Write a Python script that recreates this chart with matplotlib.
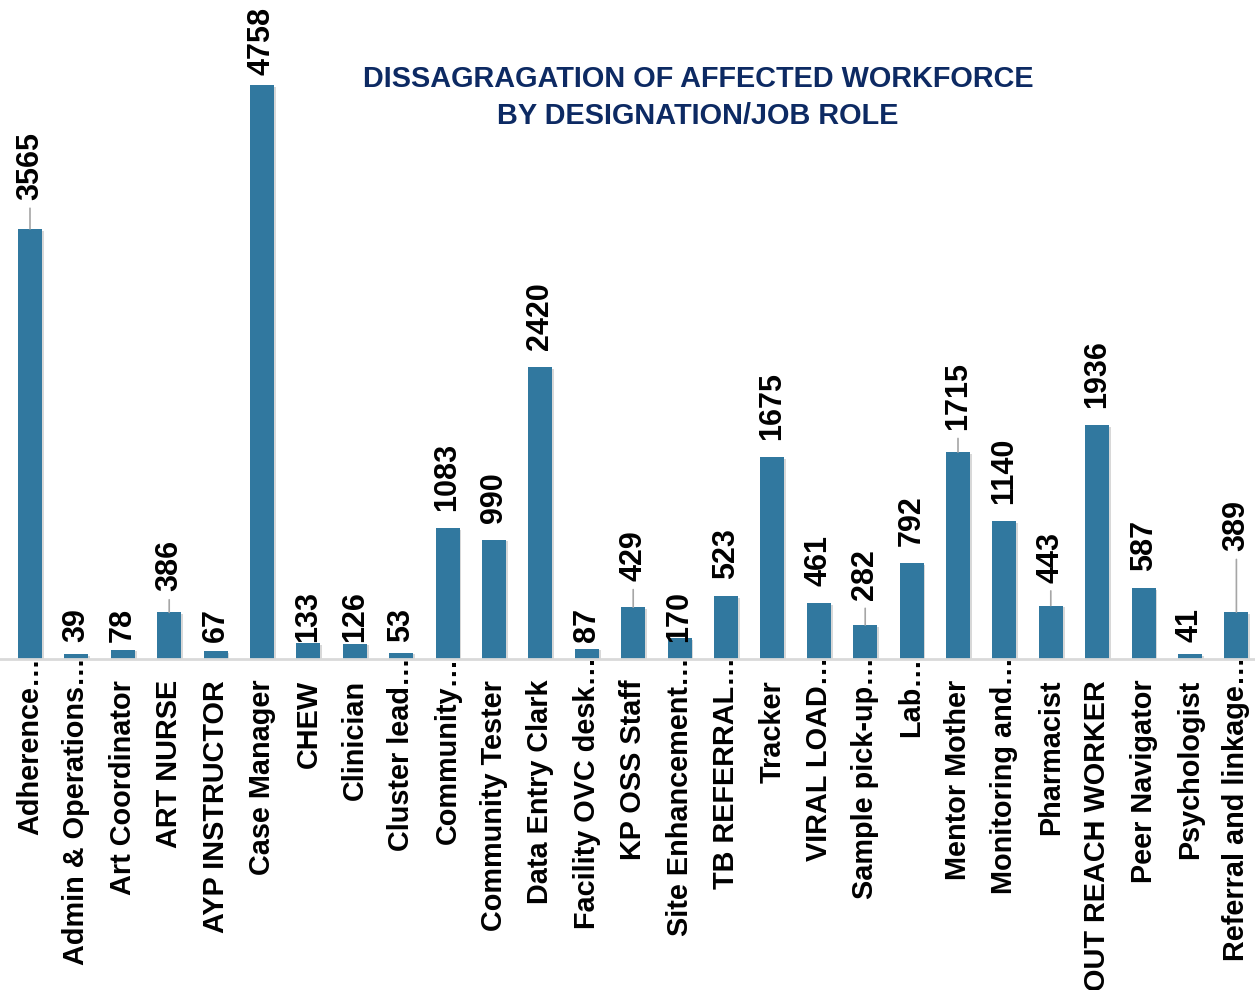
import matplotlib
matplotlib.use("Agg")
import matplotlib.pyplot as plt
import matplotlib.patheffects as pe
from matplotlib.transforms import ScaledTranslation

# job roles (labels truncated the way the source chart shows them)
roles = [
    "Adherence…", "Admin & Operations…", "Art Coordinator", "ART NURSE",
    "AYP INSTRUCTOR", "Case Manager", "CHEW", "Clinician", "Cluster lead…",
    "Community…", "Community Tester", "Data Entry Clark", "Facility OVC desk…",
    "KP OSS Staff", "Site Enhancement…", "TB REFERRAL…", "Tracker",
    "VIRAL LOAD…", "Sample pick-up…", "Lab…", "Mentor Mother",
    "Monitoring and…", "Pharmacist", "OUT REACH WORKER", "Peer Navigator",
    "Psychologist", "Referral and linkage…",
]
affected = [
    3565, 39, 78, 386, 67, 4758, 133, 126, 53, 1083, 990, 2420, 87, 429,
    170, 523, 1675, 461, 282, 792, 1715, 1140, 443, 1936, 587, 41, 389,
]

# labels that were dragged off the bar and carry a leader line (gap in px)
leader_gap = {0: 29, 3: 21, 13: 26, 18: 25, 20: 22, 22: 23, 26: 61}
# other labels sitting closer/farther than the default gap
gap_override = {5: 10}

BAR = "#31789f"
TITLE = "#0d2a63"
W, H, DPI = 1255, 990, 100

plt.rcParams["font.family"] = ["Liberation Sans", "DejaVu Sans"]
fig = plt.figure(figsize=(W / DPI, H / DPI), dpi=DPI)

# axes laid out so bar 0 sits at x=30px, spacing 46.4px, baseline at y=659px
base_px = 659
px_per_unit = 574 / 4758
ax = fig.add_axes([0, (H - base_px) / H, 1, base_px / H])
x = list(range(len(roles)))
bars = ax.bar(x, affected, width=0.52, color=BAR, zorder=2)
for b in bars:
    b.set_path_effects([pe.SimplePatchShadow(offset=(1.2, -1.2), shadow_rgbFace="gray", alpha=0.3),
                        pe.Normal()])

ax.set_xlim(-30 / 46.4, (W - 30) / 46.4)
ax.set_ylim(0, base_px / px_per_unit)

for s in ["top", "right", "left"]:
    ax.spines[s].set_visible(False)
ax.spines["bottom"].set_color("#d9d9d9")
ax.spines["bottom"].set_linewidth(2)
ax.set_yticks([])
ax.set_xticks(x)
ax.set_xticklabels(roles, rotation=90, ha="center", va="top",
                   fontsize=20.8, fontweight="bold")
ax.tick_params(axis="x", length=0, pad=15)

# truncated labels sit a bit higher (ellipsis reaches the baseline)
shift = ScaledTranslation(0, 23 / DPI, fig.dpi_scale_trans)
for lab in ax.get_xticklabels():
    if lab.get_text().endswith("…"):
        lab.set_transform(lab.get_transform() + shift)

# data labels
for i, v in enumerate(affected):
    anchor = v if v >= 200 else 0
    gap = leader_gap.get(i, gap_override.get(i, 17))
    arrow = None
    if i in leader_gap:
        arrow = dict(arrowstyle="-", color="#a6a6a6", lw=1.2, shrinkA=4, shrinkB=0)
    ax.annotate(str(v), xy=(i, anchor), xytext=(0, gap * 72 / DPI),
                textcoords="offset points", rotation=90, ha="center", va="bottom",
                fontsize=22, fontweight="bold", color="black",
                arrowprops=arrow, annotation_clip=False)

fig.text(698 / W, 1 - 97.5 / H,
         "DISSAGRAGATION OF AFFECTED WORKFORCE\nBY DESIGNATION/JOB ROLE",
         ha="center", va="center", fontsize=20.8, fontweight="bold",
         color=TITLE, linespacing=1.38)

fig.savefig("out.png", dpi=DPI)
plt.close(fig)
